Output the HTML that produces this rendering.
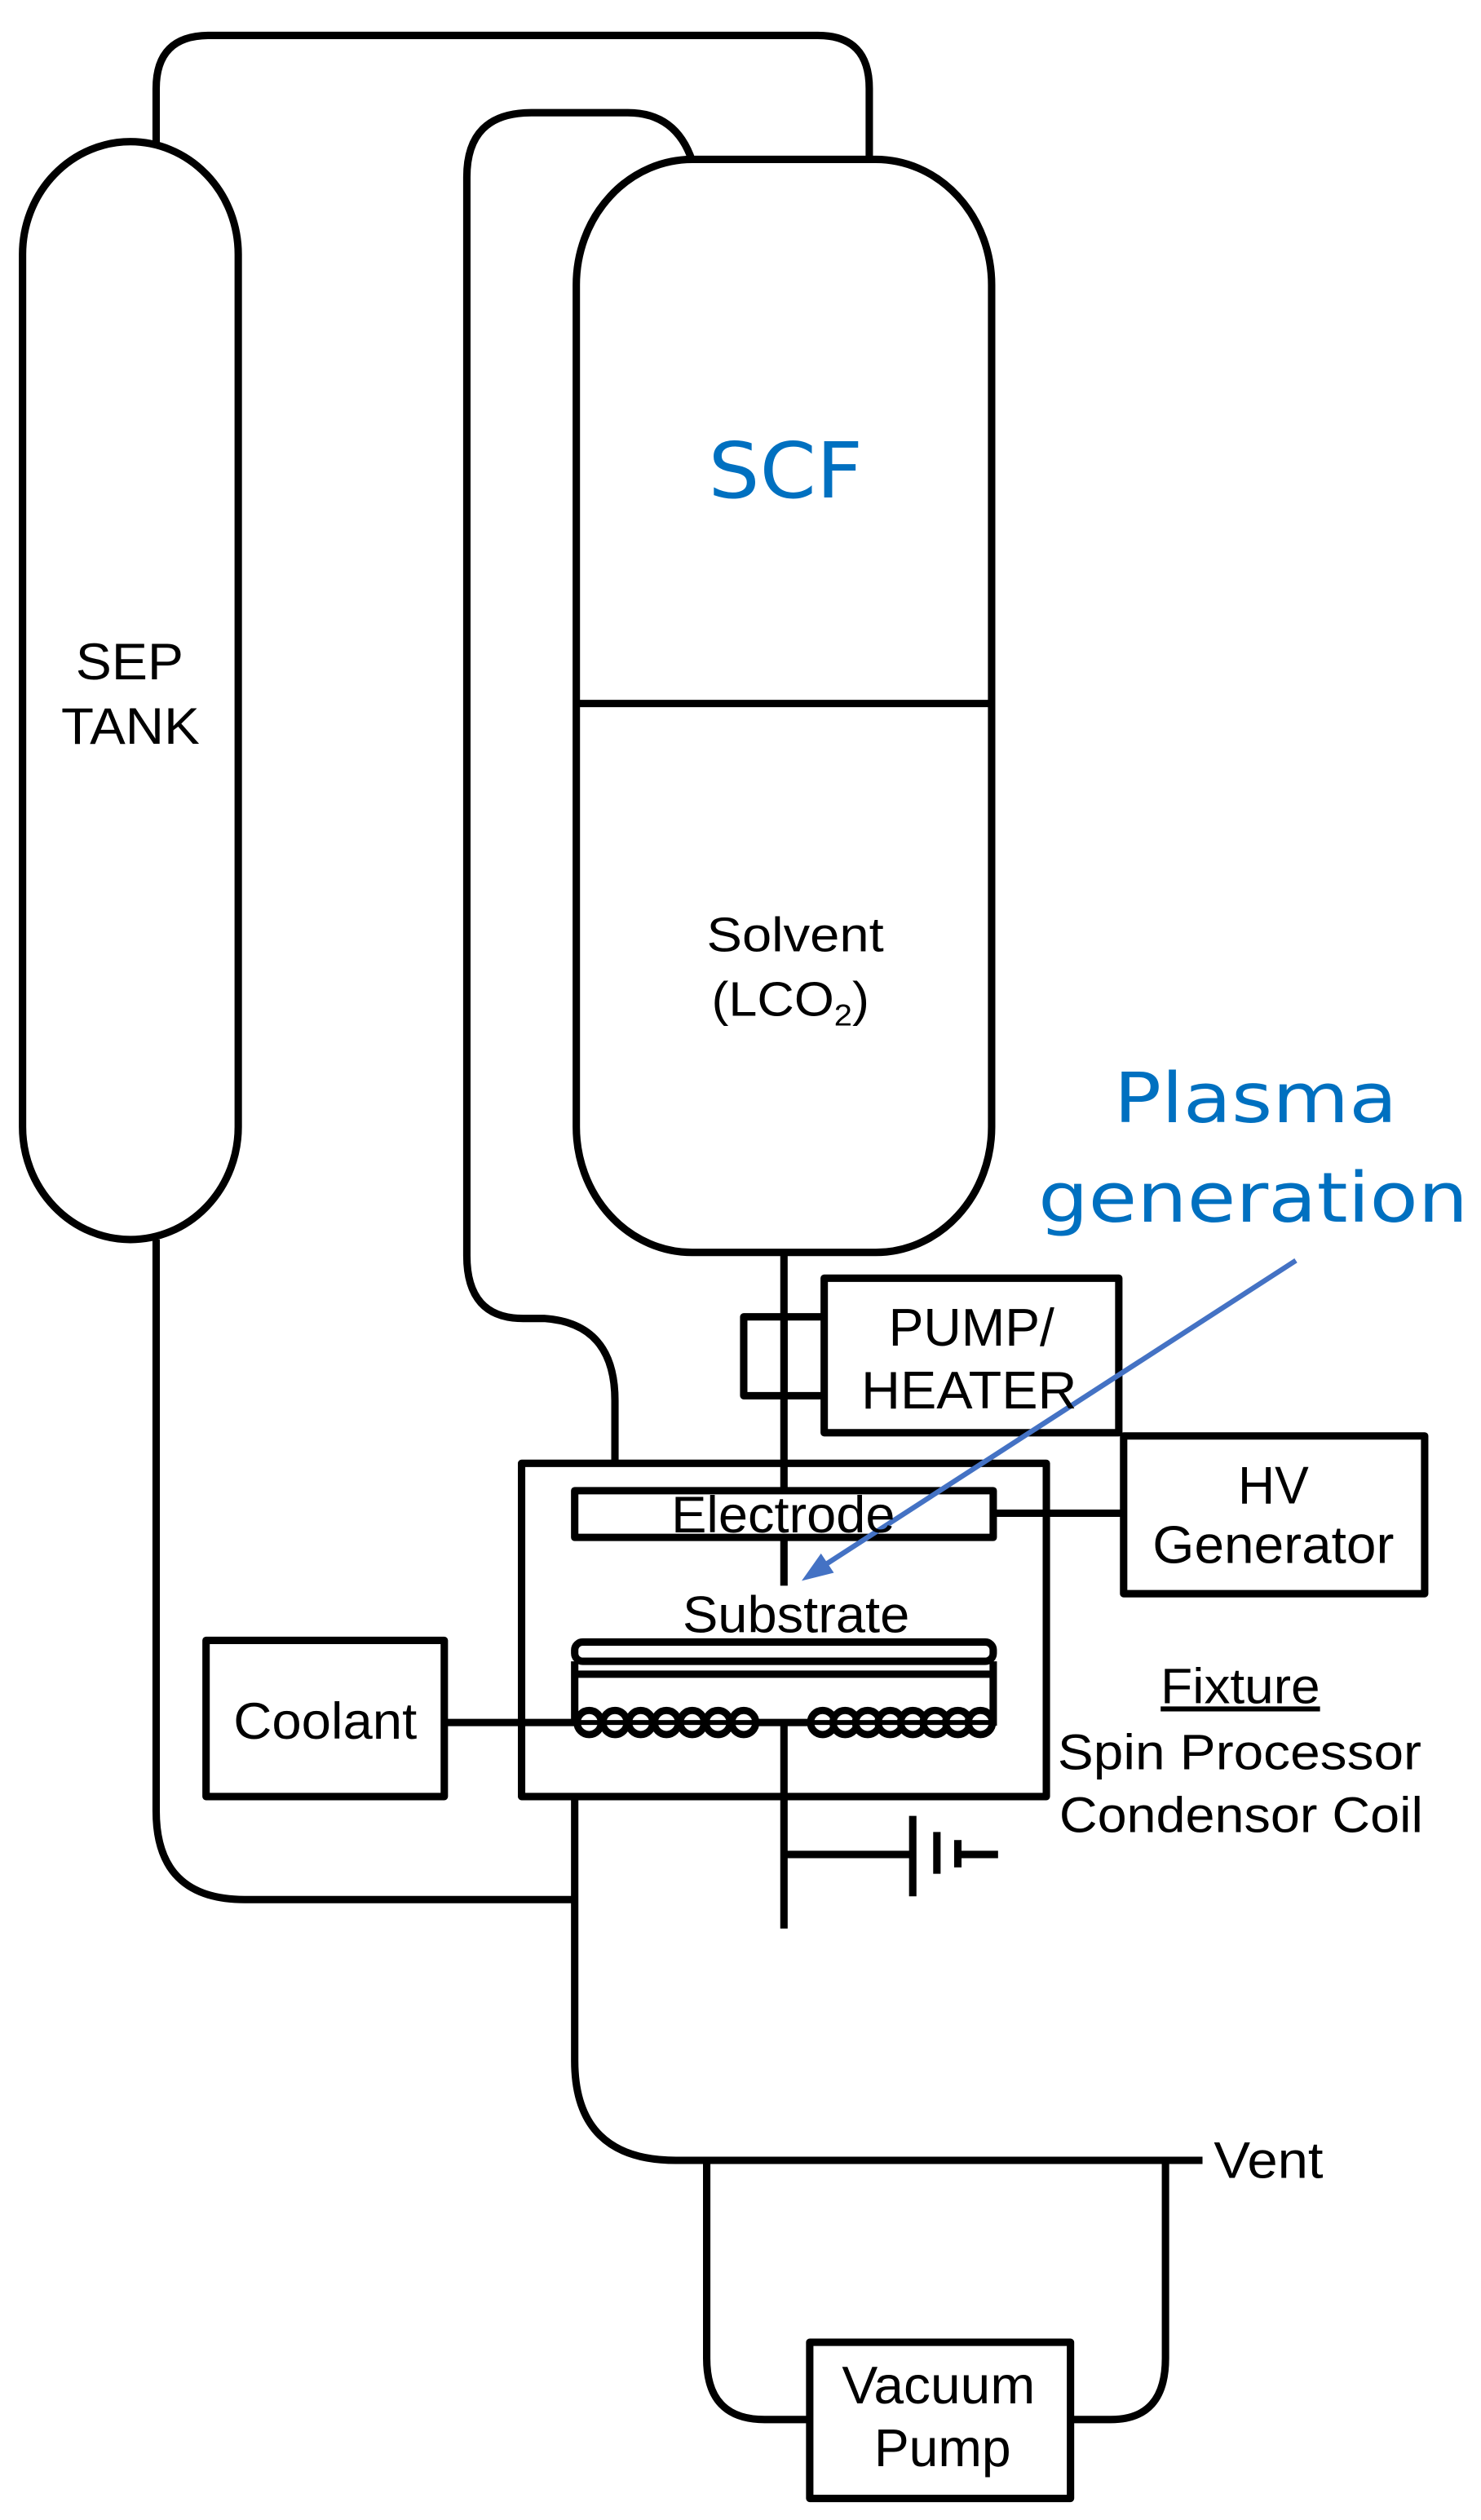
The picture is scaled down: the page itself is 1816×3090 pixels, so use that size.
<!DOCTYPE html>
<html><head><meta charset="utf-8"><style>html,body{margin:0;padding:0;background:#fff}svg{display:block}
.t{font-family:"Liberation Sans",Arial,sans-serif;fill:#000}
.b{font-family:"DejaVu Sans",Verdana,sans-serif;fill:#0070c0}
</style></head>
<body>
<svg width="1816" height="3090" viewBox="0 0 920 1565.4" xmlns="http://www.w3.org/2000/svg">
<g fill="none" stroke="#000" stroke-width="4.6" stroke-linejoin="round">
<path d="M97 90 V55 Q97 22 130 22 H508 Q540 22 540 55 V100"/>
<path d="M430 100 Q420 70 390 70 H330 Q290 70 290 110 V780 Q290 819 325 819 H338 Q382 822 382 870 V907"/>
<rect x="14" y="88" width="134" height="682" rx="67" ry="70" fill="#fff"/>
<rect x="358" y="99" width="258" height="679" rx="72" ry="78" fill="#fff"/>
<line x1="358" y1="437" x2="616" y2="437"/>
<line x1="487" y1="778" x2="487" y2="985"/>
<rect x="462" y="818" width="25" height="49" fill="#fff"/>
<line x1="487" y1="818" x2="512" y2="818"/><line x1="487" y1="867" x2="512" y2="867"/>
<rect x="512" y="794" width="183" height="96"/>
<rect x="698" y="892" width="187" height="98"/>
<rect x="324" y="909" width="326" height="207"/>
<rect x="357" y="926" width="260" height="29" fill="#fff"/>
<line x1="617" y1="940" x2="698" y2="940"/>
<rect x="357" y="1020" width="260" height="12" rx="5"/>
<path d="M357 1032 V1072 M617 1032 V1072 M357 1040 H617"/>
<rect x="128" y="1019" width="148" height="97"/>
<line x1="276" y1="1070" x2="600" y2="1070"/>
<line x1="487" y1="1070" x2="487" y2="1198"/>
<line x1="487" y1="1152" x2="567" y2="1152"/>
<line x1="567" y1="1128" x2="567" y2="1178"/>
<line x1="582" y1="1138" x2="582" y2="1164"/>
<path d="M595 1143 V1160 M595 1152 H620"/>
<path d="M97 770 V1125 Q97 1180 152 1180 H357"/>
<path d="M357 1116 V1280 Q357 1342 420 1342 H747"/>
<path d="M439 1342 V1465 Q439 1503 475 1503 H503"/>
<path d="M724 1342 V1465 Q724 1503 690 1503 H665"/>
<rect x="503" y="1455" width="162" height="97" fill="#fff"/>
</g>
<g fill="#fff" stroke="#000" stroke-width="4.5">
<circle cx="366" cy="1070" r="7.5"/><circle cx="382" cy="1070" r="7.5"/><circle cx="398" cy="1070" r="7.5"/><circle cx="414" cy="1070" r="7.5"/><circle cx="430" cy="1070" r="7.5"/><circle cx="446" cy="1070" r="7.5"/><circle cx="462" cy="1070" r="7.5"/>
<circle cx="511" cy="1070" r="7.5"/><circle cx="525" cy="1070" r="7.5"/><circle cx="539" cy="1070" r="7.5"/><circle cx="553" cy="1070" r="7.5"/><circle cx="567" cy="1070" r="7.5"/><circle cx="581" cy="1070" r="7.5"/><circle cx="595" cy="1070" r="7.5"/><circle cx="609" cy="1070" r="7.5"/>
</g>
<line x1="357" y1="1070" x2="617" y2="1070" stroke="#000" stroke-width="3"/>
<line x1="805" y1="783" x2="508" y2="975" stroke="#4472c4" stroke-width="3.2"/>
<polygon points="498,982 510,965 518,977" fill="#4472c4"/>
<g class="t">
<text x="47" y="422" font-size="32" textLength="67" lengthAdjust="spacingAndGlyphs">SEP</text>
<text x="38" y="462" font-size="32" textLength="86" lengthAdjust="spacingAndGlyphs">TANK</text>
<text x="439" y="591" font-size="30" textLength="110" lengthAdjust="spacingAndGlyphs">Solvent</text>
<text x="442" y="631" font-size="30" textLength="98" lengthAdjust="spacingAndGlyphs">(LCO<tspan font-size="19" dy="6">2</tspan><tspan dy="-6">)</tspan></text>
<text x="552" y="836" font-size="33" textLength="103" lengthAdjust="spacingAndGlyphs">PUMP/</text>
<text x="535" y="875" font-size="33" textLength="134" lengthAdjust="spacingAndGlyphs">HEATER</text>
<text x="769" y="934" font-size="33" textLength="44" lengthAdjust="spacingAndGlyphs">HV</text>
<text x="716" y="971" font-size="33" textLength="150" lengthAdjust="spacingAndGlyphs">Generator</text>
<text x="417" y="952" font-size="32" textLength="139" lengthAdjust="spacingAndGlyphs">Electrode</text>
<text x="424" y="1014" font-size="32" textLength="141" lengthAdjust="spacingAndGlyphs">Substrate</text>
<text x="145" y="1080" font-size="32" textLength="114" lengthAdjust="spacingAndGlyphs">Coolant</text>
<text x="721" y="1058" font-size="31" textLength="99" lengthAdjust="spacingAndGlyphs" text-decoration="underline">Fixture</text>
<text x="657" y="1099" font-size="31" textLength="226" lengthAdjust="spacingAndGlyphs">Spin Processor</text>
<text x="658" y="1138" font-size="31" textLength="226" lengthAdjust="spacingAndGlyphs">Condensor Coil</text>
<text x="523" y="1493" font-size="33" textLength="120" lengthAdjust="spacingAndGlyphs">Vacuum</text>
<text x="543" y="1532" font-size="33" textLength="85" lengthAdjust="spacingAndGlyphs">Pump</text>
<text x="754" y="1353" font-size="32" textLength="68" lengthAdjust="spacingAndGlyphs">Vent</text>
</g>
<g class="b">
<text x="440" y="309" font-size="48" textLength="96" lengthAdjust="spacingAndGlyphs">SCF</text>
<text x="692" y="697" font-size="43" textLength="176" lengthAdjust="spacingAndGlyphs">Plasma</text>
<text x="645" y="759" font-size="43" textLength="267" lengthAdjust="spacingAndGlyphs">generation</text>
</g>
</svg>
</body></html>
